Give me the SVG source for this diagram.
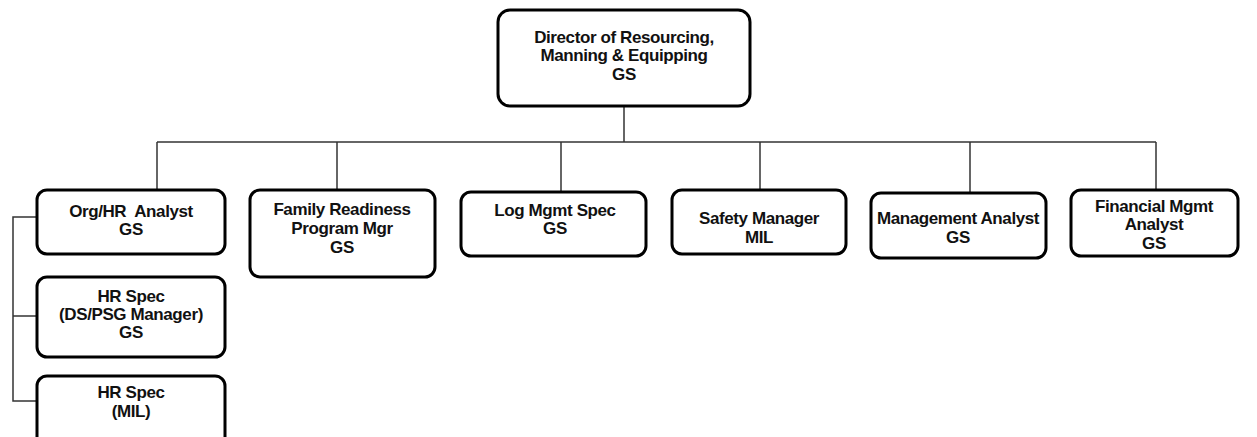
<svg xmlns="http://www.w3.org/2000/svg" width="1257" height="437" viewBox="0 0 1257 437">
  <style>
    .box { fill: #ffffff; stroke: #000000; stroke-width: 3; }
    .lbl { font-family: "Liberation Sans", Arial, sans-serif; font-weight: bold; font-size: 17px; letter-spacing: -0.4px; fill: #111111; text-anchor: middle; }
    .wire { fill: none; stroke: #333333; stroke-width: 1.5; }
  </style>
  <rect width="1257" height="437" fill="#ffffff"/>

  <!-- reporting lines -->
  <g id="connectors">
    <path class="wire" d="M624 106 V142"/>
    <path class="wire" d="M157 142 H1156"/>
    <path class="wire" d="M157 142 V190"/>
    <path class="wire" d="M337 142 V190"/>
    <path class="wire" d="M561 142 V192"/>
    <path class="wire" d="M760 142 V190"/>
    <path class="wire" d="M970 142 V193"/>
    <path class="wire" d="M1156 142 V190"/>
    <path class="wire" d="M37 217 H13 V401 H37"/>
    <path class="wire" d="M13 316 H37"/>
  </g>

  <g id="director">
    <rect class="box" x="498" y="10" width="252" height="96" rx="12"/>
    <text class="lbl" x="624" y="43">Director of Resourcing,</text>
    <text class="lbl" x="624" y="61">Manning &amp; Equipping</text>
    <text class="lbl" x="624" y="80">GS</text>
  </g>

  <g id="org-hr-analyst">
    <rect class="box" x="37" y="190" width="188" height="64" rx="10"/>
    <text class="lbl" x="131" y="217" xml:space="preserve">Org/HR  Analyst</text>
    <text class="lbl" x="131" y="235">GS</text>
  </g>

  <g id="hr-spec-ds-psg">
    <rect class="box" x="37" y="277" width="188" height="80" rx="10"/>
    <text class="lbl" x="131" y="302">HR Spec</text>
    <text class="lbl" x="131" y="320">(DS/PSG Manager)</text>
    <text class="lbl" x="131" y="338">GS</text>
  </g>

  <g id="hr-spec-mil">
    <rect class="box" x="37" y="376" width="188" height="72" rx="10"/>
    <text class="lbl" x="131" y="398">HR Spec</text>
    <text class="lbl" x="131" y="417">(MIL)</text>
  </g>

  <g id="family-readiness">
    <rect class="box" x="250" y="190" width="185" height="87" rx="10"/>
    <text class="lbl" x="342" y="215">Family Readiness</text>
    <text class="lbl" x="342" y="234">Program Mgr</text>
    <text class="lbl" x="342" y="253">GS</text>
  </g>

  <g id="log-mgmt-spec">
    <rect class="box" x="461" y="192" width="185" height="64" rx="10"/>
    <text class="lbl" x="555" y="216">Log Mgmt Spec</text>
    <text class="lbl" x="555" y="234">GS</text>
  </g>

  <g id="safety-manager">
    <rect class="box" x="672" y="190" width="174" height="64" rx="10"/>
    <text class="lbl" x="759" y="224">Safety Manager</text>
    <text class="lbl" x="759" y="243">MIL</text>
  </g>

  <g id="management-analyst">
    <rect class="box" x="871" y="193" width="175" height="65" rx="10"/>
    <text class="lbl" x="958" y="224">Management Analyst</text>
    <text class="lbl" x="958" y="243">GS</text>
  </g>

  <g id="financial-mgmt-analyst">
    <rect class="box" x="1071" y="190" width="167" height="66" rx="10"/>
    <text class="lbl" x="1154" y="212">Financial Mgmt</text>
    <text class="lbl" x="1154" y="230">Analyst</text>
    <text class="lbl" x="1154" y="249">GS</text>
  </g>
</svg>
